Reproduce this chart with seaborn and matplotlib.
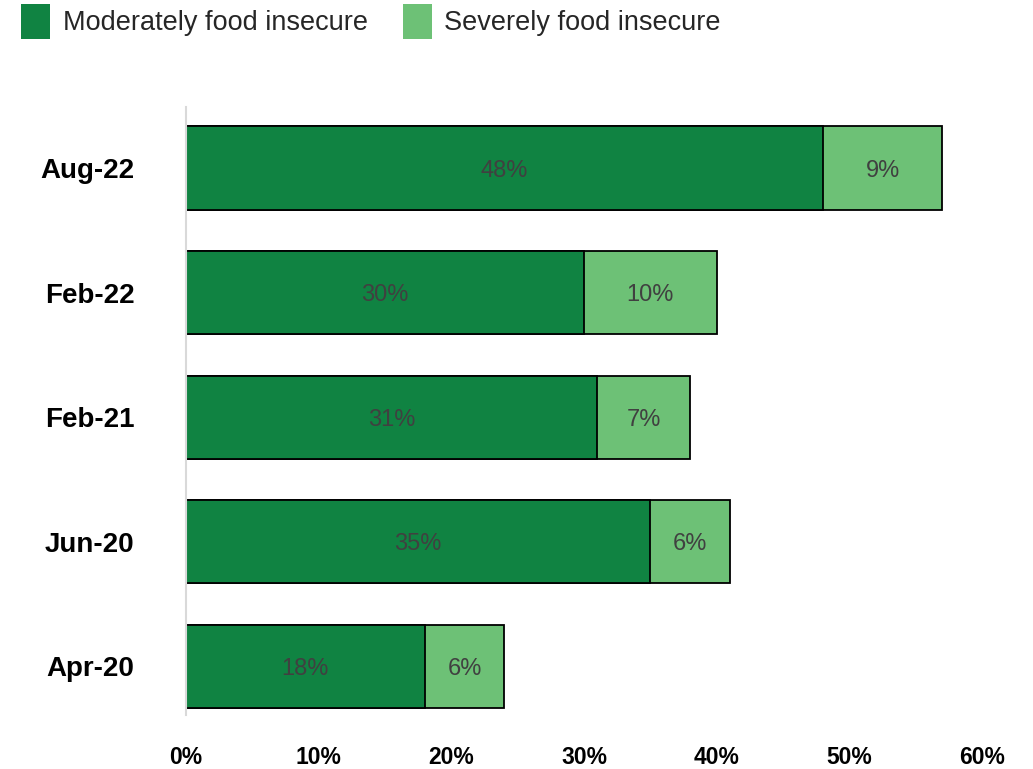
import matplotlib
matplotlib.use("Agg")
import matplotlib.pyplot as plt
import seaborn as sns
import pandas as pd
from matplotlib.patches import Patch

categories = ["Aug-22", "Feb-22", "Feb-21", "Jun-20", "Apr-20"]
moderate = [48, 30, 31, 35, 18]
severe = [9, 10, 7, 6, 6]
xticks = [0, 10, 20, 30, 40, 50, 60]
legend_labels = ["Moderately food insecure", "Severely food insecure"]

DARK = "#108342"
LIGHT = "#6DC176"

sns.set_theme(style="white")
plt.rcParams["font.family"] = ["Liberation Sans", "DejaVu Sans"]

df = pd.DataFrame({
    "period": categories,
    "moderate": moderate,
    "severe": severe,
})
df["total"] = df["moderate"] + df["severe"]

fig = plt.figure(figsize=(10.33, 7.69), dpi=100)
ax = fig.add_axes([0.18006, 0.07022, 0.95063 - 0.18006, 0.86086 - 0.07022])

sns.barplot(data=df, x="total", y="period", order=categories, orient="h",
            color=LIGHT, saturation=1, width=0.667, edgecolor="black",
            linewidth=1.3, ax=ax)
sns.barplot(data=df, x="moderate", y="period", order=categories, orient="h",
            color=DARK, saturation=1, width=0.667, edgecolor="black",
            linewidth=1.3, ax=ax)

for i, (m, s) in enumerate(zip(moderate, severe)):
    ax.text(m / 2, i, f"{m}%", ha="center", va="center_baseline", fontsize=17, color="#404040")
    ax.text(m + s / 2, i, f"{s}%", ha="center", va="center_baseline", fontsize=17, color="#404040")

ax.set_xlim(0, 60)
ax.set_ylim(4.39, -0.49)
ax.set_xticks(xticks)
ax.set_xticklabels([f"{t}%" for t in xticks], fontsize=16.5, fontweight="bold", color="black")
ax.set_yticklabels(categories, fontsize=20, fontweight="bold", color="black")
ax.set_xlabel("")
ax.set_ylabel("")
ax.tick_params(axis="x", length=0, pad=22)
ax.tick_params(axis="y", length=0, pad=37)

for side in ["top", "right", "bottom"]:
    ax.spines[side].set_visible(False)
ax.spines["left"].set_color("#d9d9d9")
ax.spines["left"].set_linewidth(1.5)
ax.grid(False)

handles = [Patch(facecolor=DARK, edgecolor="none"), Patch(facecolor=LIGHT, edgecolor="none")]
fig.legend(handles, legend_labels, loc="upper left", bbox_to_anchor=(0.010, 1.009),
           ncol=2, frameon=False, fontsize=19.5, handlelength=1.08, handleheight=1.6,
           handletextpad=0.45, columnspacing=1.3, borderaxespad=0)

fig.savefig("out.png", dpi=100)
